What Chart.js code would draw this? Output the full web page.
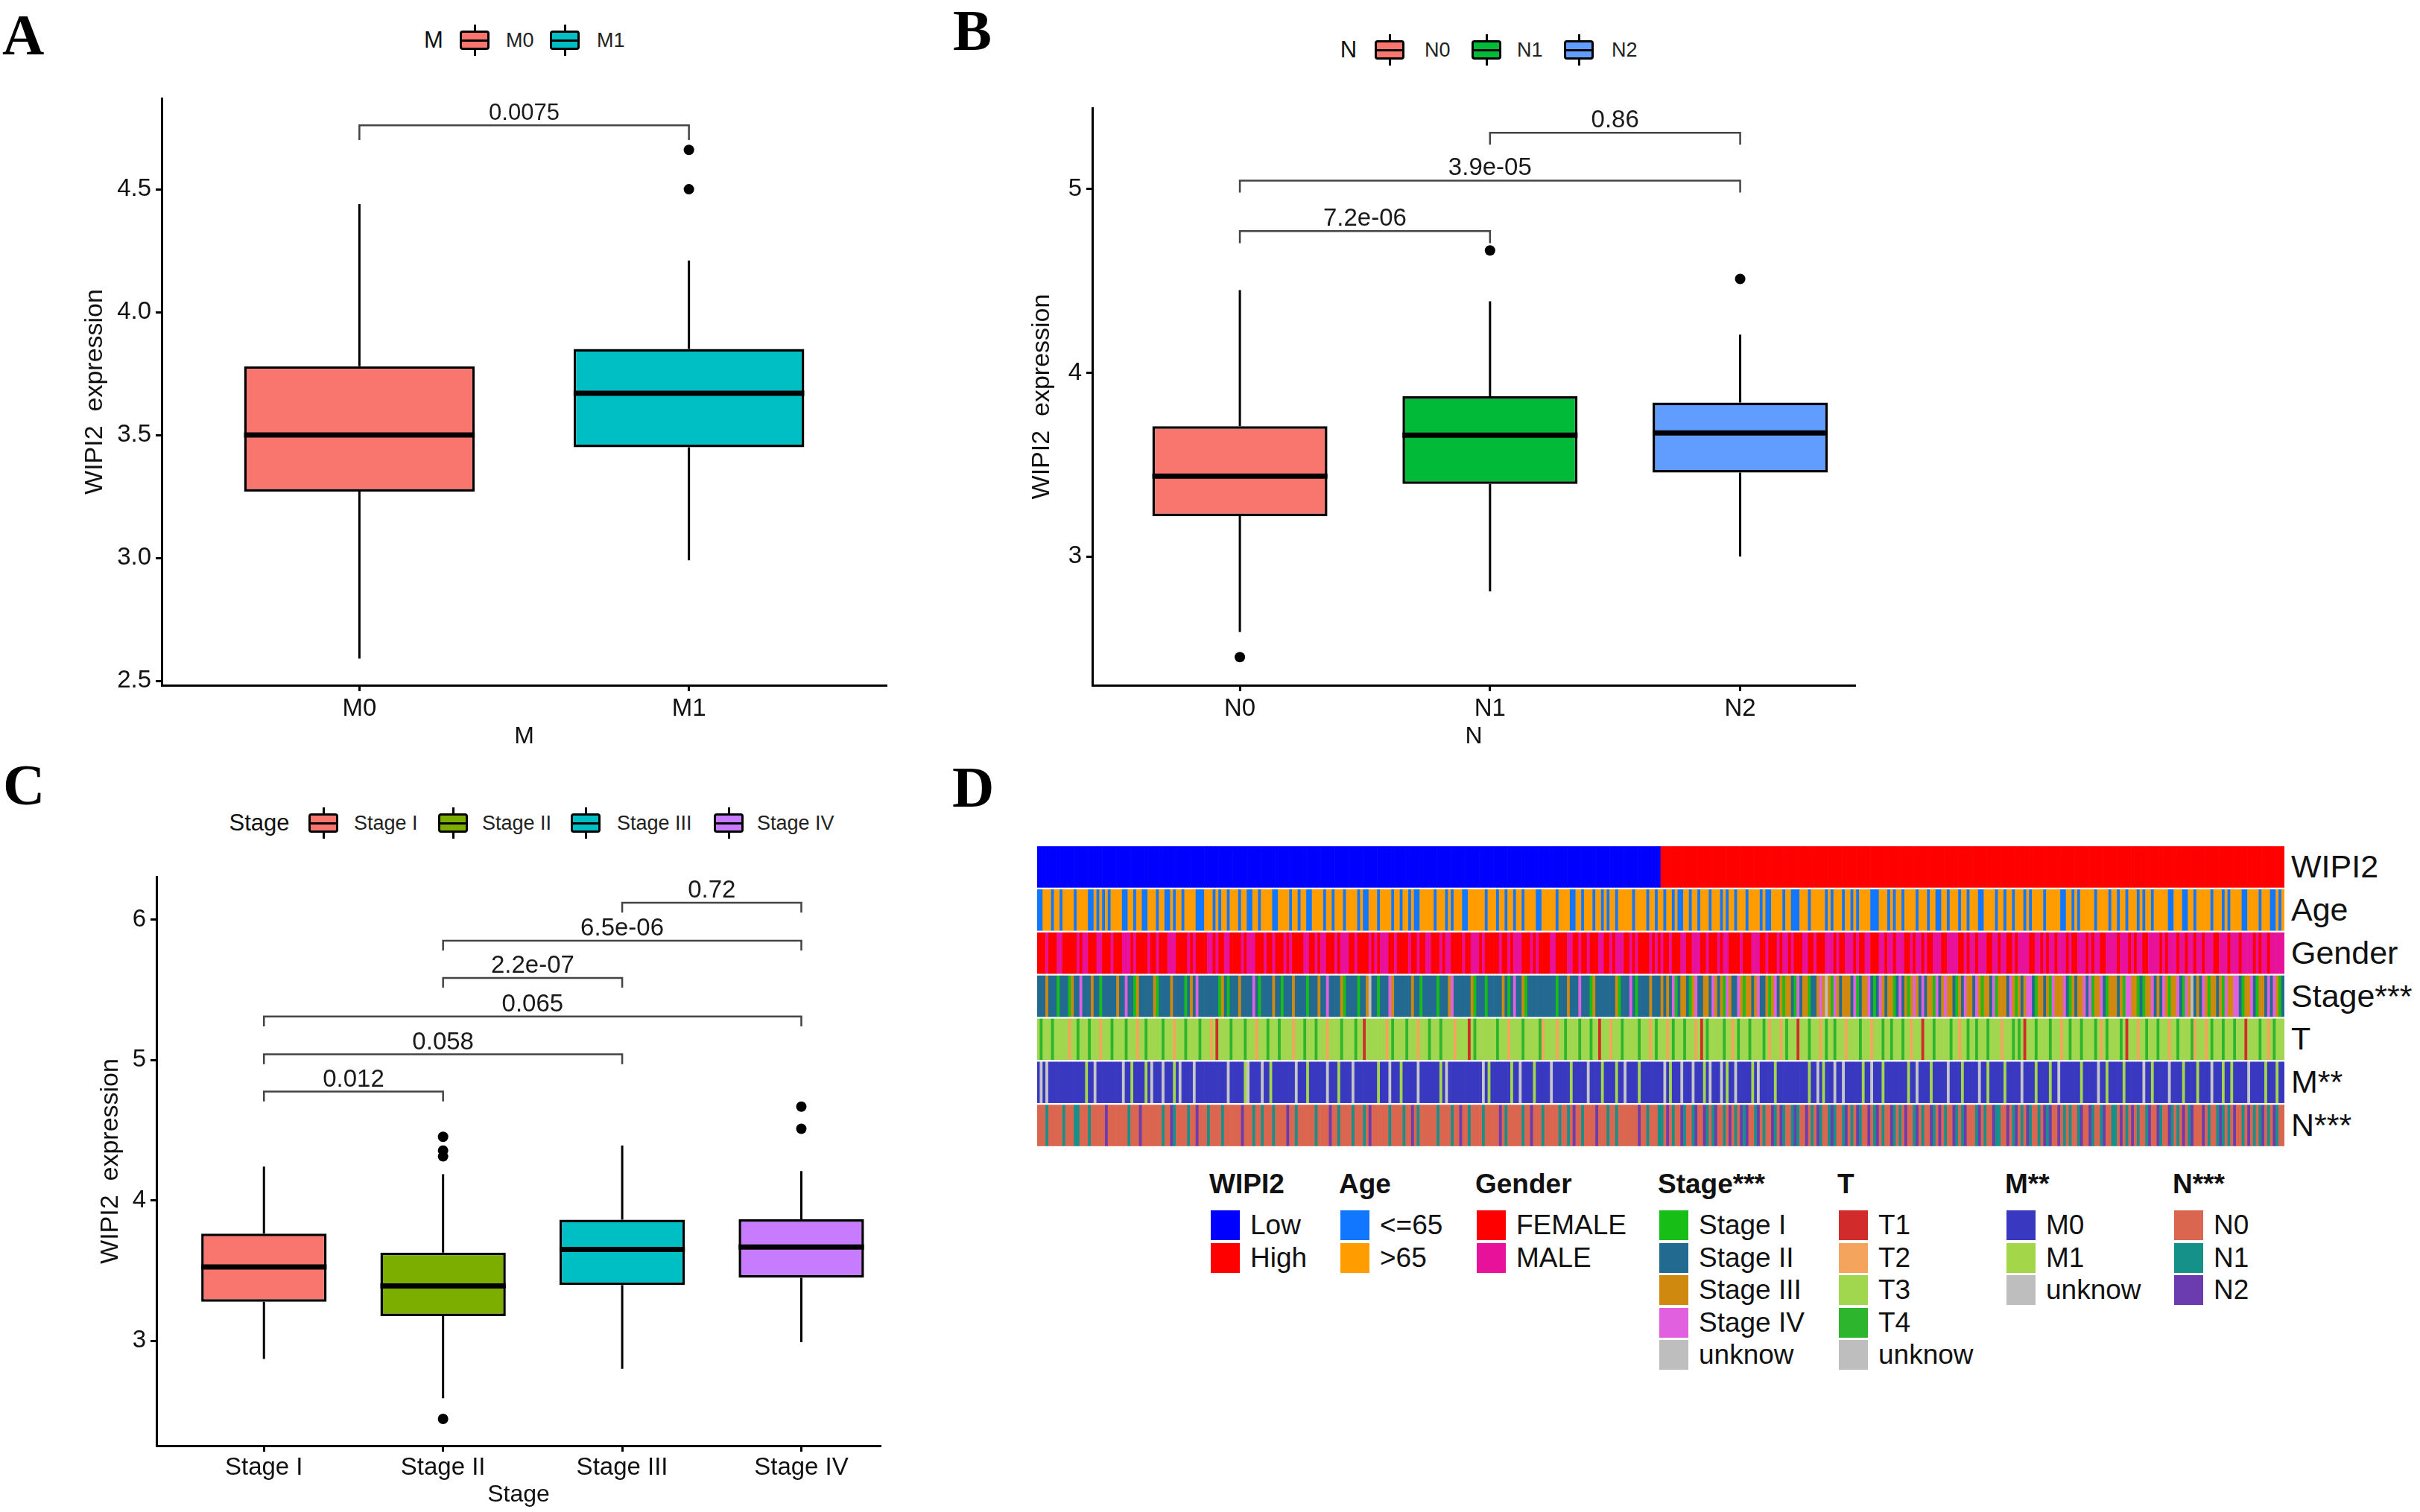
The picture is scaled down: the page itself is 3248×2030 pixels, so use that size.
<!DOCTYPE html>
<html><head><meta charset="utf-8">
<script src="https://cdn.jsdelivr.net/npm/chart.js@4.4.1/dist/chart.umd.min.js"></script>
<style>
html,body{margin:0;padding:0;background:#fff;}
body{width:3248px;height:2030px;position:relative;overflow:hidden;font-family:"Liberation Sans",Arial,sans-serif;color:#111;}
.abs{position:absolute;white-space:nowrap;}
.letter{font-family:"Liberation Serif","Times New Roman",serif;font-weight:bold;font-size:78px;line-height:78px;color:#000;}
</style></head><body>
<script>
// ======================= DATA =======================
// Panel A : WIPI2 expression by M stage
const mCats   = ['M0', 'M1'];
const mMin    = [2.59, 2.99];
const mQ1     = [3.27, 3.45];
const mMed    = [3.50, 3.67];
const mQ3     = [3.78, 3.85];
const mMax    = [4.44, 4.21];
const mOut    = [[], [4.66, 4.50]];
const mPairs  = [[1, 2, 4.76, '0.0075']];
const mYTicks = [2.5, 3.0, 3.5, 4.0, 4.5];

// Panel B : by N stage
const nCats   = ['N0', 'N1', 'N2'];
const nMin    = [2.59, 2.81, 3.00];
const nQ1     = [3.22, 3.395, 3.457];
const nMed    = [3.437, 3.66, 3.672];
const nQ3     = [3.709, 3.872, 3.838];
const nMax    = [4.449, 4.389, 4.207];
const nOut    = [[2.453], [4.665], [4.51]];
const nPairs  = [[1, 2, 4.77, '7.2e-06'], [1, 3, 5.045, '3.9e-05'], [2, 3, 5.305, '0.86']];
const nYTicks = [3, 4, 5];

// Panel C : by clinical stage
const sCats   = ['Stage I', 'Stage II', 'Stage III', 'Stage IV'];
const sMin    = [2.87, 2.59, 2.80, 2.99];
const sQ1     = [3.278, 3.175, 3.397, 3.448];
const sMed    = [3.526, 3.39, 3.65, 3.668];
const sQ3     = [3.763, 3.628, 3.862, 3.865];
const sMax    = [4.24, 4.186, 4.39, 4.209];
const sOut    = [[], [4.453, 4.355, 4.313, 2.443], [], [4.668, 4.51]];
const sPairs  = [[1, 2, 4.775, '0.012'], [1, 3, 5.04, '0.058'], [1, 4, 5.31, '0.065'],
                 [2, 3, 5.585, '2.2e-07'], [2, 4, 5.85, '6.5e-06'], [3, 4, 6.12, '0.72']];
const sYTicks = [3, 4, 5, 6];

// Panel D : clinical annotation heatmap (one character per patient)
const wipi2Counts = { Low: 220, High: 220 };
const ageSeq = [
 'aabbbabbab','bbbabbbbaa','babababbbb','aabbabbaab','bbabbaabab','babbbbaaab','bbababbabb','babbaabbab','bbbaabbbba','bbabbaabbb','babbabbbab',
 'bbbabaabbb','abbbbabbab','babaabbbbb','abbbababbb','aabbbbbbab','bbabbabbab','babbbbaabb','bbbabbbbaa','bbabbbabba','babbabbbbb','abbbbabbab',
 'babbabaabb','abbabbbabb','bababbabbb','abbbbabaab','bbbabbaaab','bbabbbbbab','abbbabbaba','bbbbaaabbb','ababbabbbb','abbbabbaab','babbbabbab',
 'bbaabbbbab','babbabbbab','abbbbabbbb','baabbababb','bbbabbbbab','babbabbbab','abbabbbbba','abbbaabbab','bbbbabbbab','abbbbaabbb','babbbaabab'].join('');
const genderSeq = [
 'FFFMFFFMMF','FFFFMFMMFF','FMMFFFMFFF','MMMFMFFFFM','FFMFFFMMMF','FFFMFMFFFF','MMFMFFMMFF','FFMFMMMFFF','MFFMFFFMFM','FFFFMMFFMF','MMFFFMFMMM',
 'FFMFFFFMFM','FMMMFFMFFF','FMFFMFFMMF','FFMFMMFFFF','MFFMMMFMFF','FFFMFFMFMM','MFFFMFMFFF','FMMFFFFMMF','FMFFMFFFMM','FFMFMMMFFM','FMFFFFMFMF',
 'MFFMFFFMMF','FMMMFFMFFF','MFMMFFFFMF','FFMMMFFMFF','FMFMMFMFFF','MMFFMFFFMM','MFMFFMMMFM','FFMMFFFMMF','MMFMMMFFMF','MMFMFFMMMF','FMMMMFFMFM',
 'MFMMMFFMMF','MMFFMFMMMM','FFMMFMFMMF','MMMFMFFMMM','FMFMMFFMMM','MFMMMFMFMM','FFMMMMFMFM','MMFMMFMMFM','MFMMMFFMMM','FMMMFMMMMF','MFMMFMMMMM'].join('');
const stageSeq = [
 '2223222122','2132242223','2212222232','2422132222','2312222322','2212324222','2222132122','2322224212','2223221222','3222212223','2242222312',
 '2221223u22','1222432222','2232212222','2122234222','2223122212','2222321242','2312222222','2221222322','2422213222','2222312224','2122223222',
 '3232412332','1342233243','2314322431','3323422313','4231332142','33122343u3','1432333241','2334212432','3312423134','3242331423','4332132433',
 '2431332413','3324313234','4213323143','3342132334','2413342133','3231443312','1334232431','3342143u23','2431332314','3344213342','1332424312'].join('');
const tSeq = [
 '3433343333','3233433343','3323334333','3433323343','3333433323','3343333433','3231333343','3334333233','3433343333','2333433343','3323333433',
 '3343313333','3332343333','4333233343','3343333233','3313433333','3343332333','3433333423','3332334333','3433343313','3323334333','3343332343',
 '3323433343','3323134333','3343323433','3433334323','3323433313','3343332343','3433323333','4333233343','3433343323','3313334333','3343323343',
 '3433343333','2333434313','3343333433','3233433343','3334323433','3343133323','3433343332','3343333423','3323433343','3343331333','3433234333'].join('');
const mSeq = [
 '0u0u000000','0000000100','u000000000','u001000010','u000u00010','u0000u0000','0000000u00','0001u0000u','0010000000','0u00010000','00u0001000',
 '0u00000000','1000u00010','0000u00000','0010u00000','0000000u01','0000000100','u000010000','0u00000010','0000u00001','0000100u00','0010000000',
 '0u01000u00','0u00010u00','0u0100u000','0010u00000','1000000000','00100u0100','0u00u00000','0100u00010','0000000100','u000010000','0u00001000',
 '00u0010000','0100000u00','0010000100','u000000010','0000u00100','0001000000','u00100000u','0000100001','0000u00010','0100000u00','0001000100'].join('');
const nSeq = [
 '0001000001','0001100010','0000200000','0010002000','0000100210','0001002000','1000010000','0020001001','0001000020','0100000010','0002001000',
 '0100010200','0000100001','0020100000','0100001002','0010000100','0002010000','0100200010','0000100102','0010000200','0100100000','0020010001',
 '1020100210','0120021012','0010201021','2001201002','1021001210','0201021001','2100120102','1002012010','0210102001','2010021020','1002101200',
 '0120100211','0020120102','1001021200','2010100120','0210012001','1020102010','0120021002','1010201200','0201001210','1020010201','0120102100'].join('');

// ======================= STYLE =======================
const FONT = "'Liberation Sans', Arial, sans-serif";
Chart.defaults.font.family = FONT;
Chart.defaults.color = '#111';
Chart.defaults.animation = false;

const heatRows = [
  { name: 'WIPI2',    key: 'WIPI2',    cmap: { L: '#0000FF', H: '#FF0000' } },
  { name: 'Age',      key: 'Age',      cmap: { a: '#1177FF', b: '#FF9D00' } },
  { name: 'Gender',   key: 'Gender',   cmap: { F: '#FF0000', M: '#E8129A' } },
  { name: 'Stage***', key: 'Stage',    cmap: { '1': '#16BE16', '2': '#236A91', '3': '#D0890F', '4': '#E060E0', u: '#BEBEBE' } },
  { name: 'T',        key: 'T',        cmap: { '1': '#D22B2B', '2': '#F5A45D', '3': '#A1D74F', '4': '#2DB52D', u: '#BEBEBE' } },
  { name: 'M**',      key: 'M',        cmap: { '0': '#3838C0', '1': '#A3D649', u: '#C6C6C6' } },
  { name: 'N***',     key: 'N',        cmap: { '0': '#DB6650', '1': '#16918A', '2': '#6A3CB0' } }
];

function addCanvas(left, top, w, h) {
  const c = document.createElement('canvas');
  c.width = w; c.height = h;
  c.style.cssText = `position:absolute;left:${left}px;top:${top}px;width:${w}px;height:${h}px;`;
  document.body.appendChild(c);
  return c;
}
function addText(txt, css) {
  const d = document.createElement('div');
  d.className = 'abs';
  d.textContent = txt;
  d.style.cssText += css;
  document.body.appendChild(d);
  return d;
}

const bracketPlugin = {
  id: 'bracketLabels',
  afterDatasetsDraw(chart, args, opts) {
    const { ctx } = chart; const x = chart.scales.x, y = chart.scales.y;
    ctx.save();
    ctx.font = `${opts.size}px ${FONT}`;
    ctx.fillStyle = '#1a1a1a';
    ctx.textAlign = 'center';
    ctx.textBaseline = 'alphabetic';
    (opts.pairs || []).forEach(p => {
      ctx.fillText(p[3], x.getPixelForValue((p[0] + p[1]) / 2), y.getPixelForValue(p[2]) - opts.gap);
    });
    ctx.restore();
  }
};

const BOXHALF = 0.35;
function boxPanel(p) {
  const W = p.plotRight + p.padRight - p.left;
  const H = p.plotBottom + p.xScaleH - p.top;
  const canvas = addCanvas(p.left, p.top, W, H);
  const boxData = p.cats.map((c, i) => ({ x: i + 1, y: [p.q1[i], p.q3[i]] }));
  const whisk = [], med = [], outs = [], br = [];
  p.cats.forEach((c, i) => {
    whisk.push({ x: i + 1, y: p.max[i] }, { x: i + 1, y: p.q3[i] }, { x: i + 1, y: null },
               { x: i + 1, y: p.q1[i] }, { x: i + 1, y: p.min[i] }, { x: i + 1, y: null });
    med.push({ x: i + 1 - BOXHALF, y: p.med[i] }, { x: i + 1 + BOXHALF, y: p.med[i] }, { x: i + 1, y: null });
    p.out[i].forEach(v => outs.push({ x: i + 1, y: v }));
  });
  p.pairs.forEach(b => {
    br.push({ x: b[0], y: b[2] - p.drop }, { x: b[0], y: b[2] }, { x: b[1], y: b[2] }, { x: b[1], y: b[2] - p.drop }, { x: b[1], y: null });
  });
  const axisCommon = {
    grid: { display: true, drawOnChartArea: false, drawTicks: true, tickLength: 8, tickWidth: 3, tickColor: '#000', offset: false },
    border: { display: true, color: '#000', width: 3 }
  };
  new Chart(canvas, {
    type: 'bar',
    data: {
      datasets: [
        { type: 'line', data: med, borderColor: '#000', borderWidth: 7, borderCapStyle: 'butt', pointRadius: 0, spanGaps: false, order: 0, clip: false },
        { type: 'scatter', data: outs, backgroundColor: '#000', borderWidth: 0, pointRadius: 7, order: 0, clip: false },
        { type: 'line', data: br, borderColor: '#444', borderWidth: 2.5, pointRadius: 0, spanGaps: false, order: 1, clip: false },
        { type: 'bar', data: boxData, backgroundColor: p.colors, borderColor: '#000', borderWidth: 3.5, borderSkipped: false,
          categoryPercentage: 1, barPercentage: 2 * BOXHALF, order: 2 },
        { type: 'line', data: whisk, borderColor: '#000', borderWidth: 3, pointRadius: 0, spanGaps: false, order: 3, clip: false }
      ]
    },
    options: {
      responsive: false, devicePixelRatio: 1, events: [],
      layout: { padding: { top: p.padTop, right: p.padRight, left: 0, bottom: 0 } },
      plugins: { legend: { display: false }, tooltip: { enabled: false },
                 bracketLabels: { pairs: p.pairs, size: p.brSize, gap: 7 } },
      scales: {
        x: Object.assign({}, axisCommon, {
          type: 'linear', min: p.xMin, max: p.xMax, offset: false,
          afterBuildTicks: s => { s.ticks = p.cats.map((c, i) => ({ value: i + 1 })); },
          afterFit: s => { s.height = p.xScaleH; },
          ticks: { autoSkip: false, maxRotation: 0, minRotation: 0, font: { size: 33 }, color: '#111', padding: p.xTickPad,
                   callback: v => p.cats[Math.round(v) - 1] },
          title: { display: true, text: p.xTitle, font: { size: 32 }, color: '#111', padding: { top: 0, bottom: p.xTitlePad } }
        }),
        y: Object.assign({}, axisCommon, {
          type: 'linear', min: p.yMin, max: p.yMax,
          afterBuildTicks: s => { s.ticks = p.yTicks.map(v => ({ value: v })); },
          afterFit: s => { s.width = p.yScaleW; },
          ticks: { font: { size: 33 }, color: '#111', padding: 6, callback: v => p.fmt(v) },
          title: { display: true, text: 'WIPI2  expression', font: { size: 34 }, color: '#111', padding: { top: p.yTitlePad, bottom: 0 } }
        })
      }
    },
    plugins: [bracketPlugin]
  });
}

function legendKey(xc, yc, color) {
  const k = document.createElement('div');
  k.style.cssText = `position:absolute;left:${xc - 20}px;top:${yc - 13}px;width:40px;height:26px;box-sizing:border-box;border:3px solid #000;border-radius:4px;background:${color};`;
  const mk = css => { const d = document.createElement('div'); d.style.cssText = 'position:absolute;background:#000;' + css; k.appendChild(d); };
  mk('left:0;right:0;top:50%;height:3px;margin-top:-1.5px;');
  mk('left:50%;width:3px;margin-left:-1.5px;top:-11px;height:8px;');
  mk('left:50%;width:3px;margin-left:-1.5px;bottom:-11px;height:8px;');
  document.body.appendChild(k);
}
function boxLegend(title, titleX, yc, keyXs, labelXs, cats, colors) {
  addText(title, `left:${titleX}px;top:${yc}px;transform:translate(-50%,-50%);font-size:31px;color:#111;`);
  cats.forEach((c, i) => {
    legendKey(keyXs[i], yc, colors[i]);
    addText(c, `left:${labelXs[i]}px;top:${yc}px;transform:translateY(-50%);font-size:27px;color:#222;`);
  });
}

// ---------- Panel A ----------
const colA = ['#F8766D', '#00BFC4'];
boxPanel({ left: 0, top: 100, plotRight: 1190, plotBottom: 920, padTop: 32, padRight: 22, xScaleH: 110, yScaleW: 217,
  cats: mCats, colors: colA, min: mMin, q1: mQ1, med: mMed, q3: mQ3, max: mMax, out: mOut, pairs: mPairs,
  yTicks: mYTicks, yMin: 2.482, yMax: 4.87, xMin: 0.4, xMax: 2.6, drop: 0.06, brSize: 31,
  fmt: v => v.toFixed(1), xTitle: 'M', xTitlePad: 22, yTitlePad: 107, xTickPad: 4 });
boxLegend('M', 582, 54, [637, 758], [679, 801], mCats, colA);

// ---------- Panel B ----------
const colB = ['#F8766D', '#00BA38', '#619CFF'];
boxPanel({ left: 1260, top: 100, plotRight: 2490, plotBottom: 920, padTop: 45, padRight: 22, xScaleH: 110, yScaleW: 206,
  cats: nCats, colors: colB, min: nMin, q1: nQ1, med: nMed, q3: nQ3, max: nMax, out: nOut, pairs: nPairs,
  yTicks: nYTicks, yMin: 2.30, yMax: 5.44, xMin: 0.41, xMax: 3.46, drop: 0.065, brSize: 33,
  fmt: v => String(v), xTitle: 'N', xTitlePad: 22, yTitlePad: 118, xTickPad: 4 });
boxLegend('N', 1810, 67, [1865, 1995, 2119], [1912, 2036, 2163], nCats, colB);

// ---------- Panel C ----------
const colC = ['#F8766D', '#7CAE00', '#00BFC4', '#C77CFF'];
boxPanel({ left: 0, top: 1140, plotRight: 1182, plotBottom: 1941, padTop: 37, padRight: 22, xScaleH: 89, yScaleW: 210,
  cats: sCats, colors: colC, min: sMin, q1: sQ1, med: sMed, q3: sQ3, max: sMax, out: sOut, pairs: sPairs,
  yTicks: sYTicks, yMin: 2.252, yMax: 6.306, xMin: 0.4, xMax: 4.443, drop: 0.07, brSize: 33,
  fmt: v => String(v), xTitle: 'Stage', xTitlePad: 4, yTitlePad: 128, xTickPad: 2 });
boxLegend('Stage', 348, 1105, [434, 608, 786, 978], [475, 647, 828, 1016], sCats, colC);

// ---------- Panel letters ----------
[['A', 3, 8], ['B', 1279, 2], ['C', 4, 1015], ['D', 1278, 1018]].forEach(l => {
  const d = addText(l[0], `left:${l[1]}px;top:${l[2]}px;`); d.classList.add('letter');
});

// ---------- Panel D : heatmap ----------
const HM = { left: 1392, top: 1135, w: 1674, h: 405 };
const wipiSeq = Object.keys(wipi2Counts).map(k => k[0].repeat(wipi2Counts[k])).join('');
const seqs = { WIPI2: wipiSeq, Age: ageSeq, Gender: genderSeq, Stage: stageSeq, T: tSeq, M: mSeq, N: nSeq };
const nPat = wipiSeq.length;
const hmCanvas = addCanvas(HM.left, HM.top, HM.w, HM.h);
new Chart(hmCanvas, {
  type: 'bar',
  data: {
    labels: Array.from({ length: nPat }, (_, i) => 'P' + (i + 1)),
    datasets: heatRows.map((r, ri) => {
      const s = seqs[r.key];
      return {
        data: Array.from({ length: nPat }, () => [ri - 0.474, ri + 0.474]),
        backgroundColor: Array.from({ length: nPat }, (_, i) => r.cmap[s[i]] || '#BEBEBE'),
        borderWidth: 0, categoryPercentage: 1, barPercentage: 1, grouped: false
      };
    })
  },
  options: {
    responsive: false, devicePixelRatio: 1, events: [],
    layout: { padding: 0 },
    plugins: { legend: { display: false }, tooltip: { enabled: false } },
    scales: {
      x: { type: 'category', display: false, offset: true },
      y: { type: 'linear', display: false, min: -0.5, max: 6.5, reverse: true }
    }
  }
});
const pitch = HM.h / heatRows.length;
heatRows.forEach((r, i) => {
  addText(r.name, `left:3075px;top:${HM.top + i * pitch}px;height:${pitch}px;line-height:${pitch}px;font-size:43px;color:#111;`);
});

// heatmap legend
const hmLegend = [
  { title: 'WIPI2',    x: 1625, items: [['Low', '#0000FF'], ['High', '#FF0000']] },
  { title: 'Age',      x: 1799, items: [['<=65', '#1177FF'], ['>65', '#FF9D00']] },
  { title: 'Gender',   x: 1982, items: [['FEMALE', '#FF0000'], ['MALE', '#E8129A']] },
  { title: 'Stage***', x: 2227, items: [['Stage I', '#16BE16'], ['Stage II', '#236A91'], ['Stage III', '#D0890F'], ['Stage IV', '#E060E0'], ['unknow', '#BEBEBE']] },
  { title: 'T',        x: 2468, items: [['T1', '#D22B2B'], ['T2', '#F5A45D'], ['T3', '#A1D74F'], ['T4', '#2DB52D'], ['unknow', '#BEBEBE']] },
  { title: 'M**',      x: 2693, items: [['M0', '#3838C0'], ['M1', '#A3D649'], ['unknow', '#BEBEBE']] },
  { title: 'N***',     x: 2918, items: [['N0', '#DB6650'], ['N1', '#16918A'], ['N2', '#6A3CB0']] }
];
hmLegend.forEach(col => {
  addText(col.title, `left:${col.x - 2}px;top:1571px;font-size:37px;line-height:37px;font-weight:bold;color:#111;`);
  col.items.forEach((it, j) => {
    const top = 1625 + j * 43.5;
    const sw = document.createElement('div');
    sw.style.cssText = `position:absolute;left:${col.x}px;top:${top}px;width:39px;height:40px;background:${it[1]};`;
    document.body.appendChild(sw);
    addText(it[0], `left:${col.x + 53}px;top:${top}px;height:40px;line-height:40px;font-size:37px;color:#111;`);
  });
});
</script>
</body></html>
